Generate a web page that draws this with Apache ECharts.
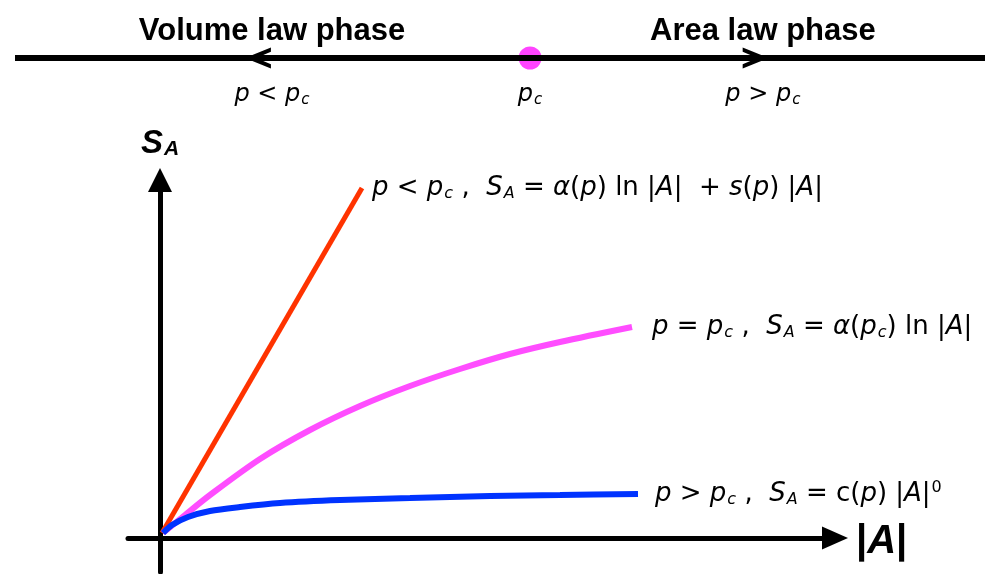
<!DOCTYPE html>
<html lang="en">

<head>
    <meta charset="UTF-8">
    <title>S_A phases</title>
    <script src="https://cdn.jsdelivr.net/npm/echarts@6/dist/echarts.min.js"></script>
    <style>
        html, body {
            margin: 0;
            padding: 0;
            background: #fff;
        }

        #chart {
            width: 993px;
            height: 574px;
        }
    </style>
</head>

<body>
    <div id="chart"></div>
    <script>
        // phase line (p from 0 to 1)
        var phaseLine = [[0, 0], [1, 0]];
        var pcPos = 0.531;
        var arrowPos = [0.253, 0.761];
        var arrowRot = [180, 0];
        var phaseLabelPos = [0.265, 0.771];
        var phaseNames = ['Volume law phase', 'Area law phase'];
        var phaseConds = ['{i|p} < {i|p}{sub|c}', '{i|p} > {i|p}{sub|c}'];

        // S_A vs |A| curves
        var volumeCurve = [[0.02, 0.05], [2.02, 3.50]];
        var criticalCurve = [[0.03, 0.05], [0.25, 0.23], [0.5, 0.43], [1.0, 0.79], [1.5, 1.08], [2.0, 1.32],
            [2.5, 1.52], [3.0, 1.69], [3.5, 1.84], [4.0, 1.96], [4.72, 2.11]];
        var areaCurve = [[0.03, 0.05], [0.12, 0.13], [0.28, 0.21], [0.5, 0.27], [0.8, 0.31], [1.2, 0.35],
            [1.8, 0.38], [2.5, 0.40], [3.3, 0.42], [4.0, 0.43], [4.78, 0.44]];

        var volumeText = '{i|p} < {i|p}{sub|c} ,  {i|S}{sub|A} = {i|α}({i|p}) ln |{i|A}|  + {i|s}({i|p}) |{i|A}|';
        var criticalText = '{i|p} = {i|p}{sub|c} ,  {i|S}{sub|A} = {i|α}({i|p}{sub|c}) ln |{i|A}|';
        var areaText = '{i|p} > {i|p}{sub|c} ,  {i|S}{sub|A} = c({i|p}) |{i|A}|{sup|0}';

        var font = 'Liberation Sans, Arial, sans-serif';
        var mathFont = 'DejaVu Sans, sans-serif';

        function mathRich(size) {
            var s = Math.round(size * 0.62);
            return {
                i: { fontStyle: 'italic', fontSize: size, fontFamily: mathFont, color: '#000' },
                sub: { fontStyle: 'italic', fontSize: s, fontFamily: mathFont, color: '#000', padding: [Math.round(size * 0.45), 0, 0, 1] },
                sup: { fontSize: s, fontFamily: mathFont, color: '#000', padding: [0, 0, Math.round(size * 0.5), 1] }
            };
        }

        function curveLabel(text, dist) {
            return {
                show: true,
                formatter: function () { return text; },
                distance: dist,
                fontSize: 26,
                fontFamily: mathFont,
                color: '#000',
                rich: mathRich(26)
            };
        }

        var myChart = echarts.init(document.getElementById('chart'));
        myChart.setOption({
            animation: false,
            backgroundColor: '#fff',
            grid: [
                { left: 128, right: 158, top: 180, bottom: 2 },
                { left: 15, right: 8, top: 40, height: 36 }
            ],
            xAxis: [
                {
                    type: 'value', min: -0.32, max: 6.75,
                    name: '{b||}{bi|A}{b||}',
                    nameLocation: 'end',
                    nameGap: 21,
                    nameTextStyle: {
                        padding: [8, 0, 0, 0],
                        rich: {
                            b: { fontSize: 40, fontWeight: 'bold', fontFamily: font, color: '#000' },
                            bi: { fontSize: 40, fontWeight: 'bold', fontStyle: 'italic', fontFamily: font, color: '#000' }
                        }
                    },
                    axisLine: {
                        lineStyle: { color: '#000', width: 5 },
                        symbol: ['none', 'triangle'],
                        symbolSize: [23, 26]
                    },
                    axisTick: { show: false },
                    axisLabel: { show: false },
                    splitLine: { show: false }
                },
                {
                    type: 'value', gridIndex: 1, min: 0, max: 1, show: false
                }
            ],
            yAxis: [
                {
                    type: 'value', min: -0.34, max: 3.58,
                    name: '{s|S}{a|A}',
                    nameLocation: 'end',
                    nameGap: 20,
                    nameTextStyle: {
                        rich: {
                            s: { fontSize: 33, fontWeight: 'bold', fontStyle: 'italic', fontFamily: font, color: '#000' },
                            a: { fontSize: 21, fontWeight: 'bold', fontStyle: 'italic', fontFamily: font, color: '#000', padding: [12, 0, 0, 1] }
                        }
                    },
                    axisLine: {
                        lineStyle: { color: '#000', width: 5 },
                        symbol: ['none', 'triangle'],
                        symbolSize: [24, 24]
                    },
                    axisTick: { show: false },
                    axisLabel: { show: false },
                    splitLine: { show: false }
                },
                {
                    type: 'value', gridIndex: 1, min: -1, max: 1, show: false
                }
            ],
            series: [
                {
                    type: 'line',
                    data: volumeCurve,
                    symbol: 'none',
                    lineStyle: { color: '#FF3300', width: 5 },
                    endLabel: curveLabel(volumeText, 10)
                },
                {
                    type: 'line',
                    data: criticalCurve,
                    symbol: 'none',
                    smooth: 0.3,
                    lineStyle: { color: '#FF4DFF', width: 6 },
                    endLabel: curveLabel(criticalText, 20)
                },
                {
                    type: 'line',
                    data: areaCurve,
                    symbol: 'none',
                    smooth: 0.3,
                    lineStyle: { color: '#0033FF', width: 6 },
                    endLabel: curveLabel(areaText, 17)
                },
                // phase line
                {
                    type: 'line',
                    xAxisIndex: 1,
                    yAxisIndex: 1,
                    data: phaseLine,
                    symbol: 'none',
                    lineStyle: { color: '#000', width: 6 }
                },
                {
                    type: 'scatter',
                    xAxisIndex: 1,
                    yAxisIndex: 1,
                    data: arrowPos.map(function (p, i) {
                        return { value: [p, 0], symbolRotate: arrowRot[i] };
                    }),
                    symbol: 'path://M0,0 L20,8 L20,12 L0,20 L0,16 L14,10 L0,4 Z',
                    symbolSize: [21, 21],
                    itemStyle: { color: '#000', opacity: 1 }
                },
                {
                    type: 'scatter',
                    xAxisIndex: 1,
                    yAxisIndex: 1,
                    data: [[pcPos, 0]],
                    symbolSize: 23,
                    itemStyle: { color: '#FF44FF', opacity: 1 },
                    label: {
                        show: true,
                        position: 'bottom',
                        distance: 12,
                        formatter: '{i|p}{sub|c}',
                        rich: mathRich(24)
                    }
                },
                {
                    type: 'scatter',
                    xAxisIndex: 1,
                    yAxisIndex: 1,
                    data: phaseLabelPos.map(function (p) { return [p, 0]; }),
                    symbolSize: 0,
                    itemStyle: { opacity: 1 },
                    label: {
                        show: true,
                        position: 'top',
                        distance: 11,
                        fontSize: 31,
                        fontWeight: 'bold',
                        fontFamily: font,
                        color: '#000',
                        formatter: function (d) { return phaseNames[d.dataIndex]; }
                    }
                },
                {
                    type: 'scatter',
                    xAxisIndex: 1,
                    yAxisIndex: 1,
                    data: phaseLabelPos.map(function (p) { return [p, 0]; }),
                    symbolSize: 0,
                    itemStyle: { opacity: 1 },
                    label: {
                        show: true,
                        position: 'bottom',
                        distance: 24,
                        fontSize: 24,
                        fontFamily: mathFont,
                        color: '#000',
                        rich: mathRich(24),
                        formatter: function (d) { return phaseConds[d.dataIndex]; }
                    }
                }
            ]
        });
    </script>
</body>

</html>
